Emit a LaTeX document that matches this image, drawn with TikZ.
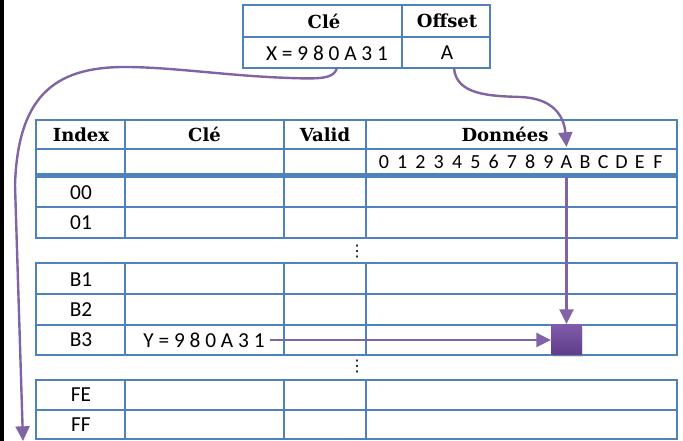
\documentclass[tikz,border=0pt]{standalone}
\usepackage{fontspec}
\setmainfont{Carlito}
\newfontfamily\headfont{DejaVu Serif}
\newfontfamily\symfont{DejaVu Sans}
\usetikzlibrary{arrows.meta,shadows}

\tikzset{every picture/.style={line width=0.75pt}}
\tikzset{
	grid line/.style={color={rgb, 255:red, 79; green, 129; blue, 189 }, draw opacity=1, line width=1.5pt},
	head line/.style={color={rgb, 255:red, 79; green, 129; blue, 189 }, draw opacity=1, line width=3.75pt},
	head text/.style={font=\headfont\bfseries\fontsize{13.5}{15}\selectfont},
	cell text/.style={font=\fontsize{16}{18}\selectfont},
	hex text/.style={font=\fontsize{15}{16}\selectfont},
	dots text/.style={font=\symfont\fontsize{12}{14}\selectfont},
	link/.style={color={rgb, 255:red, 128; green, 100; blue, 166 }, draw opacity=1, line width=1.8pt, -{Triangle[length=11pt,width=10.5pt]}}}

\begin{document}
\begin{tikzpicture}[x=0.75pt,y=0.75pt,yscale=-1,xscale=1]
	\useasboundingbox (0,0) rectangle (683,441);

	%Shape: Rectangle [left bar]
	\fill [black] (0,0) rectangle (4,441);

	%Shape: Rectangle [key table]
	\draw [grid line] (243,5) rectangle (490,68);
	%Straight Lines
	\draw [grid line] (243,37) -- (490,37);
	%Straight Lines
	\draw [grid line] (402,5) -- (402,68);

	%Shape: Rectangle [block 1]
	\draw [grid line] (36,120) rectangle (677,238);
	%Straight Lines
	\draw [grid line] (36,149) -- (677,149);
	%Straight Lines
	\draw [grid line] (36,207) -- (677,207);
	%Straight Lines
	\draw [grid line] (125,120) -- (125,238);
	%Straight Lines
	\draw [grid line] (284,120) -- (284,238);
	%Straight Lines
	\draw [grid line] (366,120) -- (366,238);
	%Straight Lines
	\draw [head line] (36,176) -- (677,176);

	%Shape: Rectangle [block 2]
	\draw [grid line] (36,263) rectangle (677,355);
	%Straight Lines
	\draw [grid line] (36,294) -- (677,294);
	%Straight Lines
	\draw [grid line] (36,325) -- (677,325);
	%Straight Lines
	\draw [grid line] (125,263) -- (125,355);
	%Straight Lines
	\draw [grid line] (284,263) -- (284,355);
	%Straight Lines
	\draw [grid line] (366,263) -- (366,355);

	%Shape: Rectangle [block 3]
	\draw [grid line] (36,380) rectangle (677,439);
	%Straight Lines
	\draw [grid line] (36,410) -- (677,410);
	%Straight Lines
	\draw [grid line] (125,380) -- (125,439);
	%Straight Lines
	\draw [grid line] (284,380) -- (284,439);
	%Straight Lines
	\draw [grid line] (366,380) -- (366,439);

	% Text Node
	\draw (324,21) node [head text] (kCle) {Clé};
	% Text Node
	\draw (447,21) node [head text] (kOff) {Offset};
	% Text Node
	\draw (327,53) node [cell text] (keyX) {X = 9 8 0 A 3 1};
	% Text Node
	\draw (447,53) node [cell text] (offA) {A};

	% Text Node
	\draw (81,134.5) node [head text] (hIndex) {Index};
	% Text Node
	\draw (204.5,134.5) node [head text] (hCle) {Clé};
	% Text Node
	\draw (325,134.5) node [head text] (hValid) {Valid};
	% Text Node
	\draw (505,134.5) node [head text] (hData) {Données};

	% Text Node
	\draw (384,162) node [hex text] (hex0) {0};
	\draw (402.3,162) node [hex text] (hex1) {1};
	\draw (420.5,162) node [hex text] (hex2) {2};
	\draw (438.8,162) node [hex text] (hex3) {3};
	\draw (457.1,162) node [hex text] (hex4) {4};
	\draw (475.4,162) node [hex text] (hex5) {5};
	\draw (493.6,162) node [hex text] (hex6) {6};
	\draw (511.9,162) node [hex text] (hex7) {7};
	\draw (530.2,162) node [hex text] (hex8) {8};
	\draw (548.4,162) node [hex text] (hex9) {9};
	\draw (566.5,162) node [hex text] (hexA) {A};
	\draw (585,162) node [hex text] (hexB) {B};
	\draw (603.2,162) node [hex text] (hexC) {C};
	\draw (621.5,162) node [hex text] (hexD) {D};
	\draw (639.8,162) node [hex text] (hexE) {E};
	\draw (658,162) node [hex text] (hexF) {F};

	% Text Node
	\draw (81,193) node [cell text] (i00) {00};
	% Text Node
	\draw (81,223) node [cell text] (i01) {01};
	% Text Node
	\draw (357,252) node [dots text] (dots1) {⋮};
	% Text Node
	\draw (81,280) node [cell text] (iB1) {B1};
	% Text Node
	\draw (81,310) node [cell text] (iB2) {B2};
	% Text Node
	\draw (81,340) node [cell text] (iB3) {B3};
	% Text Node
	\draw (204,340) node [cell text] (keyY) {Y = 9 8 0 A 3 1};
	% Text Node
	\draw (357,367) node [dots text] (dots2) {⋮};
	% Text Node
	\draw (81,395) node [cell text] (iFE) {FE};
	% Text Node
	\draw (81,425) node [cell text] (iFF) {FF};

	%Shape: Square [hit]
	\node [minimum size=22.5pt, inner sep=0pt, top color={rgb, 255:red, 130; green, 92; blue, 172 }, bottom color={rgb, 255:red, 94; green, 60; blue, 138 }, drop shadow={opacity=0.25, shadow xshift=1pt, shadow yshift=-2pt}] (blk) at (566.5,339.5) {};

	\coordinate (keyout) at (337,68);
	\coordinate (offout) at (454,68);
	\coordinate (dtop) at (566.5,147);
	\coordinate (idxend) at (23,441);

	%Curve Lines
	\draw [link] (keyout) .. controls (334,79) and (320,79) .. (290,78) .. controls (230,76) and (180,68) .. (130,67) .. controls (60,66) and (18,90) .. (15,185) -- (idxend);
	%Curve Lines
	\draw [link] (offout) .. controls (456,95) and (490,96) .. (520,97) .. controls (552,98) and (564,115) .. (dtop);
	%Straight Lines
	\draw [link, shorten <=3pt] (hexA.south) -- (blk.north);
	%Straight Lines
	\draw [link] (keyY.east) -- (keyY.east -| blk.west);

\end{tikzpicture}
\end{document}
